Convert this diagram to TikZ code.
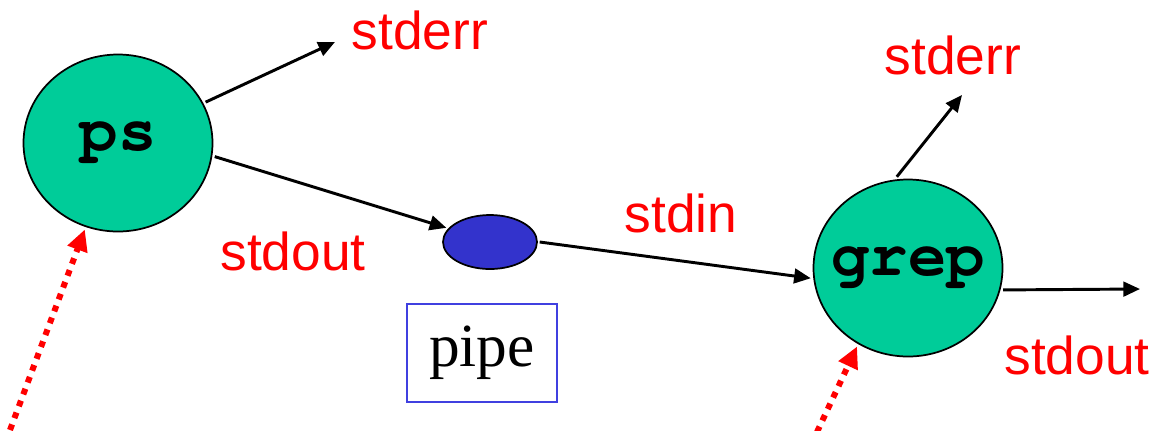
\documentclass[tikz,border=0pt]{standalone}
\usepackage{fontspec}
\setmainfont{Liberation Sans}
\setmonofont{texgyrecursor}[Extension=.otf,UprightFont=*-regular,BoldFont=*-bold]
\newfontfamily\serifface{Liberation Serif}
\usetikzlibrary{shapes.geometric,arrows.meta}
\definecolor{procgreen}{RGB}{0,204,153}
\definecolor{pipeblue}{RGB}{51,51,204}
\definecolor{boxblue}{RGB}{64,64,224}
\begin{document}
\begin{tikzpicture}[x=0.75pt,y=-0.75pt]
\tikzstyle{every node}+=[inner sep=0pt]
\tikzstyle{proc}=[ellipse,draw=black,line width=1.3pt,fill=procgreen,inner xsep=-12pt,minimum width=141.75pt,minimum height=132.75pt,outer sep=2.5pt,font=\fontsize{48}{48}\selectfont\ttfamily\bfseries]
\tikzstyle{stream}=[text=red,font=\fontsize{40}{40}\selectfont]
\tikzstyle{flow}=[draw=black,line width=2.2pt,-{Triangle[length=12.5pt,width=11pt]}]
\tikzstyle{cmd}=[draw=red,line width=4.5pt,dash pattern=on 4.5pt off 5pt,-{Triangle[length=16pt,width=15pt]}]
\useasboundingbox (0,0) rectangle (1156,430);
% processes and the pipe
\node [proc] (ps) at (118,143) {ps};
\node [proc] (grep) at (908,268) {grep};
\node [ellipse,draw=black,line width=1.3pt,fill=pipeblue,minimum width=70.5pt,minimum height=40.5pt,outer sep=2pt] (pipe) at (490,242) {};
\node [draw=boxblue,line width=1.3pt,minimum width=113pt,minimum height=73pt,font=\fontsize{46}{46}\selectfont\serifface] (pipebox) at (482,353) {pipe};
% stream labels
\node [stream] (errA) at (420,30) {stderr};
\node [stream] (outA) at (293,251) {stdout};
\node [stream] (inB) at (681,213) {stdin};
\node [stream] (errB) at (953,55) {stderr};
\node [stream] (outB) at (1077,355) {stdout};
% free ends
\coordinate (errAtip) at (335,42);
\coordinate (errBtip) at (962,95);
\coordinate (outBtip) at (1140,289);
\coordinate (psin) at (10,430);
\coordinate (grepin) at (817,432);
% connectors
\draw [flow] (ps.25) -- (errAtip);
\draw [flow] (ps.-8) -- (pipe.162);
\draw [flow] (pipe.east) -- (grep.186);
\draw [flow] (grep.97) -- (errBtip);
\draw [flow] (grep.-13) -- (outBtip);
\draw [cmd] (psin) -- (ps.249);
\draw [cmd] (grepin) -- (grep.237);
\end{tikzpicture}
\end{document}
